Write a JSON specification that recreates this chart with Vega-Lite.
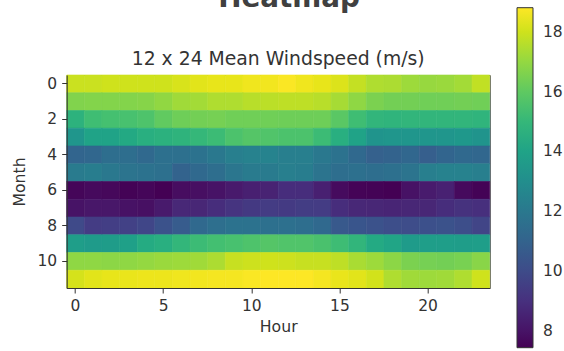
{
  "$schema": "https://vega.github.io/schema/vega-lite/v6.json",
  "autosize": {"type": "none"},
  "width": 423,
  "height": 213,
  "padding": {"left": 66.7, "top": 75, "right": 74.3, "bottom": 63},
  "background": "white",
  "title": {"text": "\u2800Heatmap", "fontSize": 27.8, "fontWeight": "bold", "font": "DejaVu Sans", "color": "#404040",
            "subtitle": "12 x 24 Mean Windspeed (m/s)", "subtitleFontSize": 18.8, "subtitleFont": "DejaVu Sans", "subtitleColor": "#333333", "subtitlePadding": 37,
            "anchor": "middle", "frame": "group", "offset": -61},
  "data": {"values": [
      {"month":0,"hour":0,"speed":17.9},{"month":0,"hour":1,"speed":17.9},{"month":0,"hour":2,"speed":18.0},{"month":0,"hour":3,"speed":18.0},{"month":0,"hour":4,"speed":18.0},{"month":0,"hour":5,"speed":18.0},{"month":0,"hour":6,"speed":18.15},{"month":0,"hour":7,"speed":18.3},{"month":0,"hour":8,"speed":18.4},{"month":0,"hour":9,"speed":18.4},{"month":0,"hour":10,"speed":18.55},{"month":0,"hour":11,"speed":18.6},{"month":0,"hour":12,"speed":18.75},{"month":0,"hour":13,"speed":18.55},{"month":0,"hour":14,"speed":18.4},{"month":0,"hour":15,"speed":18.2},{"month":0,"hour":16,"speed":17.8},{"month":0,"hour":17,"speed":17.45},{"month":0,"hour":18,"speed":17.4},{"month":0,"hour":19,"speed":17.15},{"month":0,"hour":20,"speed":17.05},{"month":0,"hour":21,"speed":17.1},{"month":0,"hour":22,"speed":17.25},{"month":0,"hour":23,"speed":17.75},
      {"month":1,"hour":0,"speed":16.65},{"month":1,"hour":1,"speed":16.7},{"month":1,"hour":2,"speed":16.7},{"month":1,"hour":3,"speed":16.7},{"month":1,"hour":4,"speed":16.75},{"month":1,"hour":5,"speed":16.95},{"month":1,"hour":6,"speed":17.2},{"month":1,"hour":7,"speed":17.25},{"month":1,"hour":8,"speed":17.45},{"month":1,"hour":9,"speed":17.45},{"month":1,"hour":10,"speed":17.6},{"month":1,"hour":11,"speed":17.65},{"month":1,"hour":12,"speed":17.7},{"month":1,"hour":13,"speed":17.7},{"month":1,"hour":14,"speed":17.6},{"month":1,"hour":15,"speed":17.3},{"month":1,"hour":16,"speed":16.9},{"month":1,"hour":17,"speed":16.55},{"month":1,"hour":18,"speed":16.4},{"month":1,"hour":19,"speed":16.4},{"month":1,"hour":20,"speed":16.35},{"month":1,"hour":21,"speed":16.35},{"month":1,"hour":22,"speed":16.4},{"month":1,"hour":23,"speed":16.35},
      {"month":2,"hour":0,"speed":14.75},{"month":2,"hour":1,"speed":15.3},{"month":2,"hour":2,"speed":15.45},{"month":2,"hour":3,"speed":15.5},{"month":2,"hour":4,"speed":15.65},{"month":2,"hour":5,"speed":16.05},{"month":2,"hour":6,"speed":16.3},{"month":2,"hour":7,"speed":16.4},{"month":2,"hour":8,"speed":16.45},{"month":2,"hour":9,"speed":16.35},{"month":2,"hour":10,"speed":16.35},{"month":2,"hour":11,"speed":16.35},{"month":2,"hour":12,"speed":16.3},{"month":2,"hour":13,"speed":16.3},{"month":2,"hour":14,"speed":16.3},{"month":2,"hour":15,"speed":15.9},{"month":2,"hour":16,"speed":15.3},{"month":2,"hour":17,"speed":14.9},{"month":2,"hour":18,"speed":14.85},{"month":2,"hour":19,"speed":14.9},{"month":2,"hour":20,"speed":14.9},{"month":2,"hour":21,"speed":14.9},{"month":2,"hour":22,"speed":14.9},{"month":2,"hour":23,"speed":14.85},
      {"month":3,"hour":0,"speed":13.4},{"month":3,"hour":1,"speed":14.0},{"month":3,"hour":2,"speed":14.0},{"month":3,"hour":3,"speed":14.3},{"month":3,"hour":4,"speed":14.6},{"month":3,"hour":5,"speed":14.7},{"month":3,"hour":6,"speed":14.8},{"month":3,"hour":7,"speed":15.0},{"month":3,"hour":8,"speed":15.2},{"month":3,"hour":9,"speed":15.6},{"month":3,"hour":10,"speed":15.8},{"month":3,"hour":11,"speed":15.7},{"month":3,"hour":12,"speed":15.6},{"month":3,"hour":13,"speed":15.6},{"month":3,"hour":14,"speed":15.2},{"month":3,"hour":15,"speed":14.6},{"month":3,"hour":16,"speed":14.0},{"month":3,"hour":17,"speed":13.3},{"month":3,"hour":18,"speed":13.4},{"month":3,"hour":19,"speed":13.4},{"month":3,"hour":20,"speed":13.4},{"month":3,"hour":21,"speed":13.4},{"month":3,"hour":22,"speed":13.5},{"month":3,"hour":23,"speed":13.3},
      {"month":4,"hour":0,"speed":11.1},{"month":4,"hour":1,"speed":11.2},{"month":4,"hour":2,"speed":11.5},{"month":4,"hour":3,"speed":11.5},{"month":4,"hour":4,"speed":11.3},{"month":4,"hour":5,"speed":11.6},{"month":4,"hour":6,"speed":11.6},{"month":4,"hour":7,"speed":11.7},{"month":4,"hour":8,"speed":12.0},{"month":4,"hour":9,"speed":12.3},{"month":4,"hour":10,"speed":12.4},{"month":4,"hour":11,"speed":12.5},{"month":4,"hour":12,"speed":12.3},{"month":4,"hour":13,"speed":12.3},{"month":4,"hour":14,"speed":12.0},{"month":4,"hour":15,"speed":11.7},{"month":4,"hour":16,"speed":11.3},{"month":4,"hour":17,"speed":10.9},{"month":4,"hour":18,"speed":11.0},{"month":4,"hour":19,"speed":11.2},{"month":4,"hour":20,"speed":10.8},{"month":4,"hour":21,"speed":11.1},{"month":4,"hour":22,"speed":11.3},{"month":4,"hour":23,"speed":11.2},
      {"month":5,"hour":0,"speed":12.1},{"month":5,"hour":1,"speed":12.2},{"month":5,"hour":2,"speed":12.0},{"month":5,"hour":3,"speed":11.8},{"month":5,"hour":4,"speed":11.7},{"month":5,"hour":5,"speed":11.6},{"month":5,"hour":6,"speed":11.0},{"month":5,"hour":7,"speed":11.3},{"month":5,"hour":8,"speed":11.5},{"month":5,"hour":9,"speed":11.9},{"month":5,"hour":10,"speed":12.1},{"month":5,"hour":11,"speed":12.1},{"month":5,"hour":12,"speed":12.3},{"month":5,"hour":13,"speed":12.2},{"month":5,"hour":14,"speed":11.8},{"month":5,"hour":15,"speed":11.5},{"month":5,"hour":16,"speed":11.6},{"month":5,"hour":17,"speed":11.5},{"month":5,"hour":18,"speed":11.6},{"month":5,"hour":19,"speed":11.8},{"month":5,"hour":20,"speed":12.3},{"month":5,"hour":21,"speed":12.4},{"month":5,"hour":22,"speed":12.4},{"month":5,"hour":23,"speed":12.3},
      {"month":6,"hour":0,"speed":7.6},{"month":6,"hour":1,"speed":7.7},{"month":6,"hour":2,"speed":7.65},{"month":6,"hour":3,"speed":7.5},{"month":6,"hour":4,"speed":7.6},{"month":6,"hour":5,"speed":7.45},{"month":6,"hour":6,"speed":7.8},{"month":6,"hour":7,"speed":7.85},{"month":6,"hour":8,"speed":8.0},{"month":6,"hour":9,"speed":8.2},{"month":6,"hour":10,"speed":8.4},{"month":6,"hour":11,"speed":8.5},{"month":6,"hour":12,"speed":8.9},{"month":6,"hour":13,"speed":8.9},{"month":6,"hour":14,"speed":8.4},{"month":6,"hour":15,"speed":7.75},{"month":6,"hour":16,"speed":7.55},{"month":6,"hour":17,"speed":7.5},{"month":6,"hour":18,"speed":7.45},{"month":6,"hour":19,"speed":7.95},{"month":6,"hour":20,"speed":8.25},{"month":6,"hour":21,"speed":8.45},{"month":6,"hour":22,"speed":7.7},{"month":6,"hour":23,"speed":7.5},
      {"month":7,"hour":0,"speed":8.0},{"month":7,"hour":1,"speed":8.1},{"month":7,"hour":2,"speed":8.1},{"month":7,"hour":3,"speed":7.95},{"month":7,"hour":4,"speed":7.9},{"month":7,"hour":5,"speed":8.2},{"month":7,"hour":6,"speed":8.7},{"month":7,"hour":7,"speed":8.65},{"month":7,"hour":8,"speed":8.9},{"month":7,"hour":9,"speed":9.15},{"month":7,"hour":10,"speed":9.3},{"month":7,"hour":11,"speed":9.4},{"month":7,"hour":12,"speed":9.35},{"month":7,"hour":13,"speed":9.45},{"month":7,"hour":14,"speed":9.4},{"month":7,"hour":15,"speed":8.9},{"month":7,"hour":16,"speed":8.7},{"month":7,"hour":17,"speed":8.65},{"month":7,"hour":18,"speed":8.6},{"month":7,"hour":19,"speed":8.65},{"month":7,"hour":20,"speed":8.65},{"month":7,"hour":21,"speed":8.9},{"month":7,"hour":22,"speed":9.05},{"month":7,"hour":23,"speed":8.95},
      {"month":8,"hour":0,"speed":9.95},{"month":8,"hour":1,"speed":9.4},{"month":8,"hour":2,"speed":9.5},{"month":8,"hour":3,"speed":9.6},{"month":8,"hour":4,"speed":9.8},{"month":8,"hour":5,"speed":10.3},{"month":8,"hour":6,"speed":10.7},{"month":8,"hour":7,"speed":11.3},{"month":8,"hour":8,"speed":11.55},{"month":8,"hour":9,"speed":11.7},{"month":8,"hour":10,"speed":11.7},{"month":8,"hour":11,"speed":11.6},{"month":8,"hour":12,"speed":11.6},{"month":8,"hour":13,"speed":11.5},{"month":8,"hour":14,"speed":11.3},{"month":8,"hour":15,"speed":10.6},{"month":8,"hour":16,"speed":10.45},{"month":8,"hour":17,"speed":10.3},{"month":8,"hour":18,"speed":10.1},{"month":8,"hour":19,"speed":10.05},{"month":8,"hour":20,"speed":10.2},{"month":8,"hour":21,"speed":10.3},{"month":8,"hour":22,"speed":10.1},{"month":8,"hour":23,"speed":9.75},
      {"month":9,"hour":0,"speed":13.8},{"month":9,"hour":1,"speed":13.65},{"month":9,"hour":2,"speed":13.7},{"month":9,"hour":3,"speed":13.9},{"month":9,"hour":4,"speed":14.4},{"month":9,"hour":5,"speed":14.6},{"month":9,"hour":6,"speed":14.95},{"month":9,"hour":7,"speed":15.2},{"month":9,"hour":8,"speed":15.4},{"month":9,"hour":9,"speed":15.5},{"month":9,"hour":10,"speed":15.65},{"month":9,"hour":11,"speed":15.8},{"month":9,"hour":12,"speed":15.7},{"month":9,"hour":13,"speed":15.7},{"month":9,"hour":14,"speed":15.55},{"month":9,"hour":15,"speed":15.25},{"month":9,"hour":16,"speed":14.9},{"month":9,"hour":17,"speed":14.35},{"month":9,"hour":18,"speed":14.1},{"month":9,"hour":19,"speed":13.65},{"month":9,"hour":20,"speed":13.8},{"month":9,"hour":21,"speed":13.8},{"month":9,"hour":22,"speed":13.75},{"month":9,"hour":23,"speed":13.8},
      {"month":10,"hour":0,"speed":16.9},{"month":10,"hour":1,"speed":16.9},{"month":10,"hour":2,"speed":16.85},{"month":10,"hour":3,"speed":16.9},{"month":10,"hour":4,"speed":17.0},{"month":10,"hour":5,"speed":17.1},{"month":10,"hour":6,"speed":17.15},{"month":10,"hour":7,"speed":17.2},{"month":10,"hour":8,"speed":17.4},{"month":10,"hour":9,"speed":17.85},{"month":10,"hour":10,"speed":17.95},{"month":10,"hour":11,"speed":18.0},{"month":10,"hour":12,"speed":17.95},{"month":10,"hour":13,"speed":17.85},{"month":10,"hour":14,"speed":17.85},{"month":10,"hour":15,"speed":17.7},{"month":10,"hour":16,"speed":17.35},{"month":10,"hour":17,"speed":17.15},{"month":10,"hour":18,"speed":16.85},{"month":10,"hour":19,"speed":16.55},{"month":10,"hour":20,"speed":16.45},{"month":10,"hour":21,"speed":16.4},{"month":10,"hour":22,"speed":16.5},{"month":10,"hour":23,"speed":16.8},
      {"month":11,"hour":0,"speed":18.1},{"month":11,"hour":1,"speed":18.3},{"month":11,"hour":2,"speed":18.4},{"month":11,"hour":3,"speed":18.45},{"month":11,"hour":4,"speed":18.5},{"month":11,"hour":5,"speed":18.5},{"month":11,"hour":6,"speed":18.55},{"month":11,"hour":7,"speed":18.6},{"month":11,"hour":8,"speed":18.65},{"month":11,"hour":9,"speed":18.65},{"month":11,"hour":10,"speed":18.75},{"month":11,"hour":11,"speed":18.8},{"month":11,"hour":12,"speed":18.8},{"month":11,"hour":13,"speed":18.8},{"month":11,"hour":14,"speed":18.65},{"month":11,"hour":15,"speed":18.45},{"month":11,"hour":16,"speed":18.3},{"month":11,"hour":17,"speed":18.05},{"month":11,"hour":18,"speed":17.45},{"month":11,"hour":19,"speed":17.2},{"month":11,"hour":20,"speed":17.15},{"month":11,"hour":21,"speed":17.2},{"month":11,"hour":22,"speed":17.45},{"month":11,"hour":23,"speed":18.0}
  ]},
  "mark": {"type": "rect", "strokeWidth": 0.6, "stroke": {"expr": "scale('color', datum.speed)"}},
  "encoding": {
    "x": {"field": "hour", "type": "ordinal", "title": "Hour",
          "scale": {"paddingInner": 0, "paddingOuter": 0},
          "axis": {"values": [0, 5, 10, 15, 20], "labelAngle": 0}},
    "y": {"field": "month", "type": "ordinal", "title": "Month",
          "scale": {"paddingInner": 0, "paddingOuter": 0},
          "axis": {"values": [0, 2, 4, 6, 8, 10], "titlePadding": 9}},
    "color": {"field": "speed", "type": "quantitative",
              "scale": {"scheme": "viridis", "domain": [7.45, 18.8], "zero": false, "nice": false},
              "legend": {"type": "gradient", "title": null, "orient": "none", "legendX": 450.3, "legendY": -67.3, "direction": "vertical",
                         "gradientLength": 340, "gradientThickness": 16, "values": [8, 10, 12, 14, 16, 18],
                         "gradientStrokeColor": "#333333", "gradientStrokeWidth": 1,
                         "labelFontSize": 15.5, "labelFont": "DejaVu Sans", "labelColor": "#333333", "labelOffset": 10, "labelOverlap": false}}
  },
  "config": {
    "view": {"stroke": "#333333", "strokeWidth": 1},
    "axis": {"labelFont": "DejaVu Sans", "labelFontSize": 15.5, "labelColor": "#333333", "titleFont": "DejaVu Sans", "titleFontSize": 15.7, "titleFontWeight": "normal", "titleColor": "#333333",
             "tickColor": "#333333", "tickSize": 5, "domainColor": "#333333", "grid": false, "labelPadding": 5, "titlePadding": 6},
    "legend": {"padding": 0}
  }
}
